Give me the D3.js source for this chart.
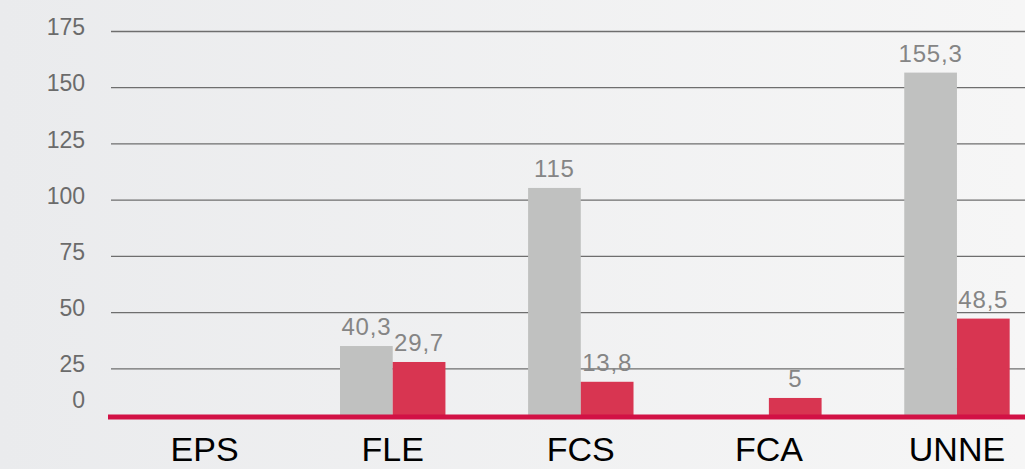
<!DOCTYPE html>
<html lang="es">
<head>
  <meta charset="UTF-8">
  <title>Bar chart</title>
  <script src="https://d3js.org/d3.v7.min.js"></script>
  <style>
    body { margin: 0; overflow: hidden; }
    text { font-family: "Liberation Sans", Arial, sans-serif; }
  </style>
</head>
<body>
  <svg id="chart" width="1025" height="469"></svg>

  <script>
    // data
    const categories = ["EPS", "FLE", "FCS", "FCA", "UNNE"];
    const series = ["gris", "rojo"];
    // bar heights as read against the gridlines
    const grayValues = [0, 34.9, 105.2, 0, 156.5];
    const redValues = [0, 27.8, 19.0, 11.8, 47.1];
    // printed value labels (null = no label)
    const grayLabels = [null, "40,3", "115", null, "155,3"];
    const redLabels = [null, "29,7", "13,8", "5", "48,5"];
    const yTicks = [0, 25, 50, 75, 100, 125, 150, 175];

    const width = 1025, height = 469;
    const svg = d3.select("#chart");

    // background gradient
    const defs = svg.append("defs");
    const grad = defs.append("linearGradient").attr("id", "bg")
      .attr("x1", "0%").attr("x2", "100%").attr("y1", "0%").attr("y2", "0%");
    grad.append("stop").attr("offset", "0%").attr("stop-color", "#eaebed");
    grad.append("stop").attr("offset", "100%").attr("stop-color", "#f6f6f6");
    svg.append("rect").attr("width", width).attr("height", height).attr("fill", "url(#bg)");

    // scales
    const y = d3.scaleLinear().domain([0, 175]).range([424.5, 31]);
    const x = d3.scaleBand().domain(categories).range([110.6, 1051]).padding(0);
    const xSub = d3.scaleBand().domain(series).range([0, x.bandwidth()])
      .paddingInner(0).paddingOuter(0.784);
    const color = d3.scaleOrdinal().domain(series).range(["#c0c1c0", "#d83551"]);
    const baseY = 417;

    // gridlines
    const grid = svg.append("g")
      .attr("transform", "translate(111,0)")
      .call(d3.axisLeft(y).tickValues(yTicks.filter(d => d > 0)).tickSize(-(width - 111)).tickFormat(""));
    grid.select(".domain").remove();
    grid.selectAll(".tick line").attr("stroke", "#6e6e6e").attr("stroke-width", 1.3);

    // y labels
    const yAxis = svg.append("g")
      .attr("transform", "translate(85,0)")
      .call(d3.axisLeft(y).tickValues(yTicks).tickSize(0).tickPadding(0));
    yAxis.select(".domain").remove();
    yAxis.selectAll(".tick text")
      .attr("font-size", 23)
      .attr("fill", "#6b6b6b")
      .attr("dy", "0.16em");
    yAxis.selectAll(".tick").filter(d => d === 0)
      .attr("transform", `translate(0,${baseY - 13})`);

    // bars
    const rows = categories.map((c, i) => ({
      cat: c,
      items: [
        { key: "gris", value: grayValues[i], label: grayLabels[i] },
        { key: "rojo", value: redValues[i], label: redLabels[i] }
      ]
    }));

    const groups = svg.append("g").selectAll("g")
      .data(rows)
      .join("g")
      .attr("transform", d => `translate(${x(d.cat)},0)`);

    groups.selectAll("rect")
      .data(d => d.items.filter(it => it.value > 0))
      .join("rect")
      .attr("x", d => xSub(d.key))
      .attr("y", d => y(d.value))
      .attr("width", xSub.bandwidth())
      .attr("height", d => baseY - y(d.value))
      .attr("fill", d => color(d.key));

    groups.selectAll("text")
      .data(d => d.items.filter(it => it.label))
      .join("text")
      .attr("x", d => xSub(d.key) + xSub.bandwidth() / 2)
      .attr("y", d => y(d.value) - 11)
      .attr("text-anchor", "middle")
      .attr("font-size", 24)
      .attr("letter-spacing", "0.8px")
      .attr("fill", "#858585")
      .text(d => d.label);

    // baseline
    svg.append("line")
      .attr("x1", 108).attr("x2", width)
      .attr("y1", baseY).attr("y2", baseY)
      .attr("stroke", "#d21145").attr("stroke-width", 5);

    // category labels
    svg.append("g").selectAll("text")
      .data(categories)
      .join("text")
      .attr("x", d => x(d) + x.bandwidth() / 2)
      .attr("y", 461)
      .attr("text-anchor", "middle")
      .attr("font-size", 34)
      .attr("fill", "#000")
      .text(d => d);
  </script>
</body>
</html>
